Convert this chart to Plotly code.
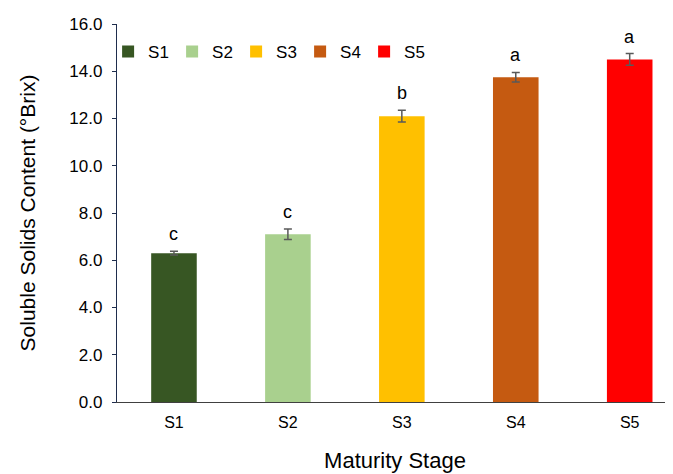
import plotly.graph_objects as go

stages = ["S1", "S2", "S3", "S4", "S5"]
means = [6.3, 7.1, 12.1, 13.75, 14.5]
errors = [0.08, 0.22, 0.25, 0.2, 0.25]
letters = ["c", "c", "b", "a", "a"]
colors = ["#375623", "#A9D08E", "#FFC000", "#C55A11", "#FF0000"]
y_ticks = [0, 2, 4, 6, 8, 10, 12, 14, 16]

FONT = "Liberation Sans, Arial, sans-serif"

fig = go.Figure()
for s, m, e, c in zip(stages, means, errors, colors):
    fig.add_trace(go.Bar(
        x=[s], y=[m], name=s, marker=dict(color=c, line=dict(width=0)),
        width=0.4,
        error_y=dict(type="data", array=[e], visible=True, color="#595959", thickness=1.5, width=4),
    ))

for s, m, e, l in zip(stages, means, errors, letters):
    fig.add_annotation(x=s, y=m + e, text=l, showarrow=False, yanchor="bottom", yshift=5,
                       font=dict(size=18, color="#000000", family=FONT))

fig.update_layout(
    width=665, height=466,
    margin=dict(l=109, r=0, t=16, b=72, pad=0),
    plot_bgcolor="white", paper_bgcolor="white",
    barmode="overlay",
    font=dict(family=FONT, color="#000000"),
    showlegend=True,
    legend=dict(orientation="h", x=-0.016, y=0.974, xanchor="left", yanchor="top",
                font=dict(size=17, color="#000000", family=FONT),
                bgcolor="rgba(0,0,0,0)", entrywidth=19, entrywidthmode="pixels",
                itemwidth=30, traceorder="normal"),
    xaxis=dict(range=[-0.5, 4.38], showline=True, linecolor="#404040", linewidth=1.2,
               ticks="", tickfont=dict(size=16, family=FONT), ticklabelstandoff=6,
               title=dict(text="Maturity Stage", font=dict(size=22, family=FONT), standoff=22),
               showgrid=False),
    yaxis=dict(range=[0, 16], tickvals=y_ticks, ticktext=[f"{v:.1f}" for v in y_ticks],
               showline=True, linecolor="#1F2D4D", linewidth=1.3,
               ticks="outside", ticklen=4, tickcolor="#1F2D4D", ticklabelstandoff=6,
               tickfont=dict(size=17, family=FONT), showgrid=False, zeroline=False,
               title=dict(text="Soluble Solids Content (°Brix)", font=dict(size=21, family=FONT), standoff=28)),
)

fig.write_html("out.html")
